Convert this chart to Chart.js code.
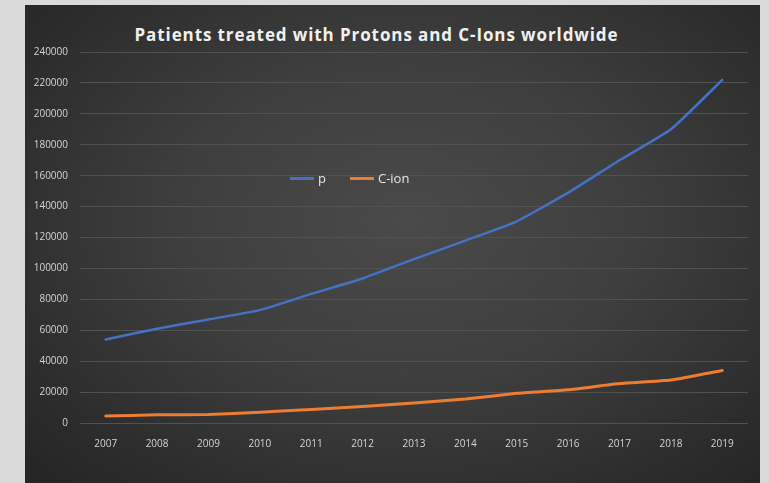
<!DOCTYPE html>
<html lang="en">
<head>
  <meta charset="UTF-8">
  <title>Patients treated with Protons and C-Ions worldwide</title>
  <script src="https://cdn.jsdelivr.net/npm/chart.js"></script>
  <style>
    body {
      margin: 0;
      background: #dadada;
      font-family: 'Open Sans', sans-serif;
    }
    .panel {
      position: absolute;
      left: 25px;
      top: 5px;
      width: 735px;
      height: 478px;
      background: radial-gradient(ellipse 70% 75% at 52% 45%, #4a4a4a 0%, #3e3e3e 45%, #2c2c2c 85%, #262626 100%);
    }
    .title {
      position: absolute;
      left: 0;
      width: 703px;
      top: 18px;
      text-align: center;
      color: #f0f0f0;
      font-weight: 700;
      font-size: 17px;
      letter-spacing: 0.9px;
    }
    #legend {
      position: absolute;
      left: 265px;
      top: 164px;
      display: flex;
      gap: 24px;
      color: #e6e6e6;
      font-size: 13px;
    }
    #legend span.item { display: flex; align-items: center; }
    #legend span.swatch {
      display: inline-block;
      width: 24px;
      height: 3px;
      margin-right: 4px;
    }
    canvas { position: absolute; left: 0; top: 0; }
  </style>
</head>
<body>
  <div class="panel">
    <div class="title">Patients treated with Protons and C-Ions worldwide</div>
    <canvas id="chart" width="735" height="478"></canvas>
    <div id="legend"></div>
  </div>
  <script>
    const years = ['2007', '2008', '2009', '2010', '2011', '2012', '2013',
                   '2014', '2015', '2016', '2017', '2018', '2019'];
    const protons = [54000, 61000, 67000, 73000, 83500, 93500, 106000,
                     118000, 130500, 149000, 170000, 190000, 222000];
    const carbonIons = [4500, 5300, 5500, 7000, 8800, 10700, 13000,
                        15500, 19200, 21500, 25500, 27800, 34000];
    const seriesNames = ['p', 'C-ion'];
    const seriesColors = ['#4472c4', '#ed7d31'];

    const ctx = document.getElementById('chart').getContext('2d');
    const chart = new Chart(ctx, {
      type: 'line',
      data: {
        labels: years,
        datasets: [
          { label: seriesNames[0], data: protons, borderColor: seriesColors[0], borderWidth: 2.5 },
          { label: seriesNames[1], data: carbonIons, borderColor: seriesColors[1], borderWidth: 3 }
        ]
      },
      options: {
        responsive: false,
        animation: false,
        elements: {
          point: { radius: 0 },
          line: { tension: 0.15, borderCapStyle: 'round' }
        },
        layout: { padding: { top: 47, right: 12, bottom: 0, left: 0 } },
        plugins: {
          legend: { display: false },
          tooltip: { enabled: false }
        },
        scales: {
          x: {
            offset: true,
            grid: { display: false },
            border: { display: false },
            ticks: {
              color: '#d4d4d4',
              font: { family: 'Open Sans', size: 10 },
              padding: 7,
              maxRotation: 0
            },
            afterFit: axis => { axis.height = 60; }
          },
          y: {
            min: 0,
            max: 240000,
            ticks: {
              stepSize: 20000,
              color: '#d4d4d4',
              font: { family: 'Open Sans', size: 10 },
              padding: 12,
              callback: v => String(v)
            },
            grid: { color: '#525252', lineWidth: 1, drawTicks: false },
            border: { display: false },
            afterFit: axis => { axis.width = 55; }
          }
        }
      }
    });

    // legend sits inside the plot area
    const legend = document.getElementById('legend');
    chart.data.datasets.forEach(ds => {
      const item = document.createElement('span');
      item.className = 'item';
      item.innerHTML = `<span class="swatch" style="background:${ds.borderColor}"></span>${ds.label}`;
      legend.appendChild(item);
    });
  </script>
</body>
</html>
